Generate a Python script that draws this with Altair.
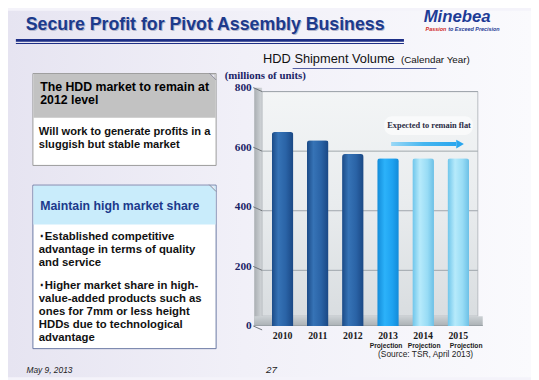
import altair as alt
import pandas as pd

# ---- data ----
years = ["2010", "2011", "2012", "2013", "2014", "2015"]
volumes = [651, 623, 577, 563, 563, 563]
groups = ["actual", "actual", "actual", "first", "proj", "proj"]
sublabels = ["", "", "", "Projection", "Projection", "Projection"]
y_ticks = [0, 200, 400, 600, 800]
grid_vals = [200, 400, 600, 800]

title_text = "Secure Profit for Pivot Assembly Business"
chart_title = "HDD Shipment Volume"
chart_subtitle = "(Calendar Year)"
unit_text = "(millions of units)"
note_text = "Expected to remain flat"
source_text = "(Source: TSR, April 2013)"
box1_head = ["The HDD market to remain at", "2012 level"]
box1_body = ["Will work to generate profits in a", "sluggish but stable market"]
box2_head = "Maintain high market share"
box2_bullet1 = ["\uff65Established competitive", "advantage in terms of quality", "and service"]
box2_bullet2 = ["\uff65Higher market share in high-", "value-added products such as",
                "ones for 7mm or less height", "HDDs due to technological", "advantage"]
date_text = "May 9, 2013"
page_text = "27"
logo_text = "Minebea"

df = pd.DataFrame({"year": years, "volume": volumes, "group": groups, "sub": sublabels})
grid_df = pd.DataFrame({"v": grid_vals})
one = pd.DataFrame({"a": [0]})

W, H = 214, 242
xs = alt.X("year:N", sort=years, scale=alt.Scale(paddingInner=0.38, paddingOuter=0.19), axis=None)
ys = alt.Y("volume:Q", scale=alt.Scale(domain=[0, 800]),
           axis=alt.Axis(values=y_ticks, title=None, domain=False, ticks=False, grid=False,
                         labelFont="Liberation Serif", labelFontWeight="bold", labelFontSize=11.5,
                         labelColor="#1a2466", labelPadding=14, offset=0, zindex=1))

NAVY = "#1c3a8c"


def grad(stops, vertical=False):
    if vertical:
        return alt.Gradient(gradient="linear", x1=0, x2=0, y1=0, y2=1,
                            stops=[alt.GradientStop(offset=o, color=c) for o, c in stops])
    return alt.Gradient(gradient="linear", x1=0, x2=1, y1=0, y2=0,
                        stops=[alt.GradientStop(offset=o, color=c) for o, c in stops])


base1 = alt.Chart(one)


def rect(x, x2, y, y2, **kw):
    return base1.mark_rect(**kw).encode(x=alt.value(x), x2=alt.value(x2), y=alt.value(y), y2=alt.value(y2))


def txt(x, y, text, **kw):
    return base1.mark_text(text=text, align=kw.pop("align", "left"), baseline=kw.pop("baseline", "alphabetic"),
                           **kw).encode(x=alt.value(x), y=alt.value(y))


layers = []
# slide background
layers.append(rect(-261, 270, -78, 294, fill=grad([(0, "#e6e4f1"), (0.45, "#f1f0f8"), (1, "#fafafd")])))

# title with shadow
layers.append(txt(-242, -58, title_text, font="Liberation Sans", fontSize=18, fontWeight="bold", color="#b4b6cc"))
layers.append(txt(-243, -59, title_text, font="Liberation Sans", fontSize=18, fontWeight="bold", color=NAVY))
layers.append(rect(-253, 141, -49.3, -46.7, fill="#1e2f86"))
layers.append(rect(-253, 141, -45.3, -44.3, fill="#1e2f86"))

# logo
layers.append(txt(161, -66.5, logo_text, font="Liberation Sans", fontSize=17, fontWeight="bold",
                  fontStyle="italic", color="#1e3c96"))
layers.append(txt(163, -58, "Passion", font="Liberation Sans", fontSize=5.5, fontWeight="bold",
                  fontStyle="italic", color="#d0281e"))
layers.append(txt(186, -58, "to Exceed Precision", font="Liberation Sans", fontSize=5.5, fontWeight="bold",
                  fontStyle="italic", color="#1e3c96"))

# chart title
layers.append(txt(-2, -25, chart_title, font="Liberation Sans", fontSize=13, color="#111111"))
layers.append(txt(138, -25, chart_subtitle, font="Liberation Sans", fontSize=10, color="#111111"))
layers.append(rect(28, 174, -19.8, -18.8, fill="#1e2f86"))
layers.append(txt(-41, -8.5, unit_text, font="Liberation Serif", fontSize=11, fontWeight="bold", color="#1a2466"))

# 3D chart frame: left wall, back wall, floor
layers.append(rect(-11, -3, 0, 242, fill=grad([(0, "#a9aeb2"), (1, "#d3d7da")])))
layers.append(rect(-3, 216, 4, 232, fill=grad([(0, "#f3f5f6"), (0.5, "#e9ecee"), (1, "#d9dde0")], vertical=True),
                   stroke="#b8bdc1", strokeWidth=1))
layers.append(rect(-11, 221, 232, 242, fill=grad([(0, "#cdd2d5"), (1, "#aab0b4")], vertical=True)))
layers.append(rect(-11, 221, 241, 242, fill="#9aa1a6"))

# gridlines on back wall and slanted ticks
layers.append(alt.Chart(grid_df).mark_rule(color="#9ea6ac", strokeWidth=1, yOffset=4).encode(
    x=alt.value(-3), x2=alt.value(216), y=alt.Y("v:Q", scale=alt.Scale(domain=[0, 800]))))
layers.append(alt.Chart(pd.DataFrame({"v": y_ticks})).mark_rule(color="#6e7378", strokeWidth=1, y2Offset=4).encode(
    x=alt.value(-12), x2=alt.value(-3), y=alt.Y("v:Q", scale=alt.Scale(domain=[0, 800])),
    y2=alt.Y2("v:Q")))

# note box + arrow
layers.append(rect(121, 211, 29, 48, fill="#ffffff", opacity=0.6, cornerRadius=8))
layers.append(txt(166.5, 41, note_text, align="center", font="Liberation Serif", fontSize=8.5,
                  fontWeight="bold", color="#2a2c44"))
layers.append(rect(128, 194, 55.3, 59.3, fill=grad([(0, "#9ad8f6"), (0.5, "#45b6f0"), (1, "#2aa6ee")])))
layers.append(base1.mark_point(shape="triangle-right", filled=True, size=80, color="#2aa6ee", opacity=1)
              .encode(x=alt.value(198), y=alt.value(57.3)))

# bars
bar_fills = {
    "actual": grad([(0, "#1b4a86"), (0.3, "#3673b6"), (0.65, "#2a63a6"), (1, "#1a4783")]),
    "first": grad([(0, "#128ad8"), (0.35, "#2cb2fa"), (0.7, "#1ea2f0"), (1, "#128ad8")]),
    "proj": grad([(0, "#6cc4ea"), (0.35, "#b6eafb"), (0.7, "#98dcf5"), (1, "#6cc0e6")]),
}
base = alt.Chart(df)
for g, f in bar_fills.items():
    layers.append(base.transform_filter(alt.datum.group == g).mark_bar(
        fill=f, size=22, cornerRadiusTopLeft=3, cornerRadiusTopRight=3).encode(x=xs, y=ys))

# x labels
layers.append(base.mark_text(font="Liberation Serif", fontSize=10, fontWeight="bold", color="#1a1a1a",
                             baseline="alphabetic").encode(x=xs, y=alt.value(255), text="year:N"))
for yr, dx in [("2013", -2), ("2014", 1), ("2015", 8)]:
    layers.append(base.transform_filter(alt.datum.year == yr).mark_text(
        font="Liberation Sans", fontSize=6.8, fontWeight="bold", color="#1a1a1a",
        baseline="alphabetic", dx=dx).encode(x=xs, y=alt.value(264), text="sub:N"))
layers.append(txt(163, 274, source_text, align="center", font="Liberation Sans", fontSize=8.5, color="#222222"))

# left boxes
layers.append(rect(-235.7, -49.7, -14.3, 79, fill="#ffffff", stroke="#9a9a9a", strokeWidth=1))
layers.append(rect(-235.2, -50.2, -13.8, 30.7, fill="#c2c2c2"))
layers.append(txt(-228.3, 3.3, box1_head, font="Liberation Sans", fontSize=12.5, fontWeight="bold",
                  color="#000000", lineHeight=13.4))
layers.append(txt(-229.7, 48, box1_body, font="Liberation Sans", fontSize=11.3, fontWeight="bold",
                  color="#111111", lineHeight=13.3))

layers.append(rect(-235.7, -49.7, 99, 265, fill="#ffffff", stroke="#6a78a4", strokeWidth=1))
layers.append(rect(-235.2, -50.2, 99.5, 139, fill="#c9ecfb"))
layers.append(txt(-228.3, 124, box2_head, font="Liberation Sans", fontSize=12.5, fontWeight="bold",
                  color=NAVY))
layers.append(txt(-229.7, 154.7, box2_bullet1, font="Liberation Sans", fontSize=11.5, fontWeight="bold",
                  color="#111111", lineHeight=13.3))
layers.append(txt(-229.7, 204, box2_bullet2, font="Liberation Sans", fontSize=11.5, fontWeight="bold",
                  color="#111111", lineHeight=13.3))

# dog-ear corners
corner = "M-0.5,-0.5 L0.5,-0.5 L0.5,0.5 Z"
for cy, col in [(-11.3, "#eceaf5"), (102, "#eceaf5")]:
    layers.append(base1.mark_point(shape=corner, filled=True, size=49, color=col, opacity=1)
                  .encode(x=alt.value(-53.2), y=alt.value(cy)))
    layers.append(base1.mark_rule(color="#8a8a9a", strokeWidth=1).encode(
        x=alt.value(-56.7), x2=alt.value(-49.7), y=alt.value(cy - 3.5), y2=alt.value(cy + 3.5)))

# footer
layers.append(txt(-242.3, 290, date_text, font="Liberation Sans", fontSize=8.5, fontStyle="italic", color="#222222"))
layers.append(txt(1, 290, page_text, font="Liberation Sans", fontSize=10, fontStyle="italic", color="#222222"))

chart = alt.layer(*layers).properties(
    width=W, height=H,
    autosize=alt.AutoSizeParams(type="none"),
    padding={"left": 261, "top": 78, "right": 56, "bottom": 52},
).configure_view(stroke=None).configure(background="#f4f3fa")

chart.save("out.html", embed_options={"renderer": "svg", "actions": False})
